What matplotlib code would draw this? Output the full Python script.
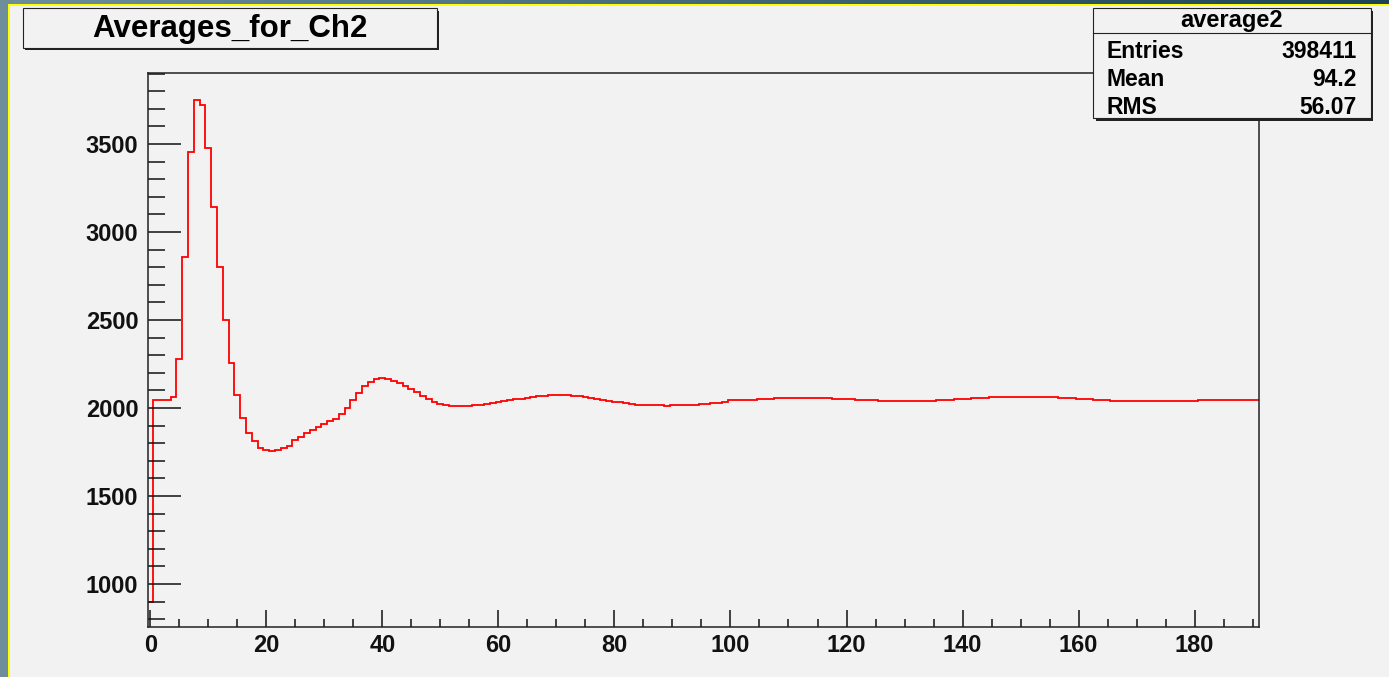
"""
Averages_for_Ch2 - ROOT style histogram redrawn with matplotlib
"""

import matplotlib
matplotlib.use('Agg')  # Non-interactive backend

import numpy as np
from matplotlib import pyplot as plt
from matplotlib.patches import Rectangle
from matplotlib.ticker import FixedLocator, MultipleLocator
from matplotlib.colors import LinearSegmentedColormap

plt.rcParams['font.family'] = ['Liberation Sans', 'DejaVu Sans']
plt.rcParams['font.weight'] = 'bold'

# =============================================================================
# Data (one value per bin of width 1, first bin at 0)
# =============================================================================
hist_title = 'Averages_for_Ch2'
hist_name = 'average2'
first_bin = 0
counts = [
    900, 2047, 2047, 2047, 2063, 2278, 2856, 3455, 3750, 3722,
    3477, 3142, 2799, 2499, 2258, 2076, 1945, 1860, 1811, 1773,
    1763, 1756, 1763, 1773, 1784, 1816, 1835, 1860, 1877, 1894,
    1911, 1926, 1940, 1964, 1998, 2044, 2086, 2124, 2148, 2165,
    2171, 2165, 2154, 2142, 2127, 2108, 2089, 2068, 2051, 2034,
    2021, 2015, 2010, 2010, 2010, 2010, 2015, 2015, 2021, 2029,
    2034, 2040, 2046, 2050, 2050, 2055, 2063, 2068, 2068, 2074,
    2074, 2074, 2074, 2068, 2068, 2063, 2057, 2051, 2046, 2040,
    2034, 2034, 2031, 2025, 2019, 2019, 2019, 2019, 2019, 2011,
    2019, 2019, 2019, 2019, 2019, 2024, 2024, 2030, 2030, 2036,
    2044, 2044, 2047, 2047, 2047, 2053, 2053, 2053, 2059, 2059,
    2059, 2059, 2059, 2059, 2059, 2059, 2059, 2059, 2053, 2053,
    2053, 2053, 2047, 2047, 2047, 2047, 2042, 2042, 2042, 2042,
    2042, 2042, 2042, 2042, 2042, 2042, 2047, 2047, 2047, 2053,
    2053, 2053, 2059, 2059, 2059, 2064, 2064, 2064, 2064, 2064,
    2064, 2064, 2064, 2064, 2064, 2064, 2064, 2059, 2059, 2059,
    2053, 2053, 2053, 2047, 2047, 2047, 2042, 2042, 2042, 2042,
    2042, 2042, 2042, 2042, 2042, 2042, 2042, 2042, 2042, 2042,
    2042, 2047, 2047, 2047, 2047, 2047, 2047, 2047, 2047, 2047,
    2047, 2047,
]
stat_labels = ['Entries', 'Mean', 'RMS']
stat_values = ['398411', '94.2', '56.07']
x_ticks = [0, 20, 40, 60, 80, 100, 120, 140, 160, 180]
y_ticks = [1000, 1500, 2000, 2500, 3000, 3500]

# =============================================================================
# Canvas
# =============================================================================
W, H = 1389, 677
fig = plt.figure(figsize=(W / 100, H / 100), dpi=100)
fig.patch.set_facecolor('#6f8e9c')  # window frame colour

# background layer in pixel coordinates
bg = fig.add_axes([0, 0, 1, 1], zorder=0)
bg.axis('off')
frame_cmap = LinearSegmentedColormap.from_list('frame', ['#6f8e9c', '#1c4454'])
bg.imshow(np.linspace(0, 1, 256).reshape(1, -1), extent=(0, W, 5, 0),
          aspect='auto', cmap=frame_cmap, zorder=1)
bg.add_patch(Rectangle((8, 4), W, H, color='#ffff00', lw=0, zorder=2))
bg.add_patch(Rectangle((10, 6), W, H, color='#f2f2f2', lw=0, zorder=3))
bg.set_xlim(0, W)
bg.set_ylim(H, 0)

# =============================================================================
# Histogram
# =============================================================================
ax = fig.add_axes([148 / W, 1 - 627 / H, (1259 - 148) / W, (627 - 73) / H],
                  zorder=1)
ax.patch.set_alpha(0)

edges = np.arange(len(counts) + 1) + first_bin - 0.5
ax.stairs(counts, edges, baseline=None, color='#ff0000', lw=1.3)

ax.set_xlim(-0.4, 191.1)
ax.set_ylim(756, 3903)

ax.xaxis.set_major_locator(FixedLocator(x_ticks))
ax.xaxis.set_minor_locator(MultipleLocator(5))
ax.yaxis.set_major_locator(FixedLocator(y_ticks))
ax.yaxis.set_minor_locator(MultipleLocator(100))

ax.tick_params(axis='both', which='both', direction='in', colors='#111111',
               width=1.1, labelsize=17)
ax.tick_params(axis='x', which='major', length=12.2, pad=5)
ax.tick_params(axis='x', which='minor', length=5.8)
ax.tick_params(axis='y', which='major', length=23.8, pad=7)
ax.tick_params(axis='y', which='minor', length=12.2)
for side in ['left', 'right', 'top', 'bottom']:
    ax.spines[side].set_color('#222222')
    ax.spines[side].set_linewidth(1.1)

# =============================================================================
# Title box and stats box (pixel coordinates)
# =============================================================================
fg = fig.add_axes([0, 0, 1, 1], zorder=2)
fg.axis('off')
fg.patch.set_alpha(0)
fg.set_xlim(0, W)
fg.set_ylim(H, 0)

# title pave
fg.add_patch(Rectangle((25, 10.5), 414, 39.5, color='#222222', lw=0))
fg.add_patch(Rectangle((22.7, 8.3), 414, 39.5, fc='#f2f2f2', ec='#222222', lw=0.8))
fg.text(229.7, 28.5, hist_title, fontsize=22.5, fontweight='bold',
        ha='center', va='center', color='black')

# stats pave
bx0, by0, bw, bh = 1093.3, 8.3, 277.4, 110
fg.add_patch(Rectangle((bx0 + 2.5, by0 + 2.5), bw, bh, color='#222222', lw=0))
fg.add_patch(Rectangle((bx0, by0), bw, bh, fc='#f2f2f2', ec='#222222', lw=0.8))
fg.plot([bx0, bx0 + bw], [33.3, 33.3], color='#222222', lw=0.8)
fg.text(bx0 + bw / 2, 20.5, hist_name, fontsize=17, fontweight='bold',
        ha='center', va='center', color='black')
row_y = [51.7, 80, 107.5]
for lab, val, yy in zip(stat_labels, stat_values, row_y):
    fg.text(1106.7, yy, lab, fontsize=16.5, fontweight='bold',
            ha='left', va='center', color='black')
    fg.text(1356.7, yy, val, fontsize=16.5, fontweight='bold',
            ha='right', va='center', color='black')

plt.savefig('out.png', dpi=100, facecolor=fig.get_facecolor())
plt.close()
